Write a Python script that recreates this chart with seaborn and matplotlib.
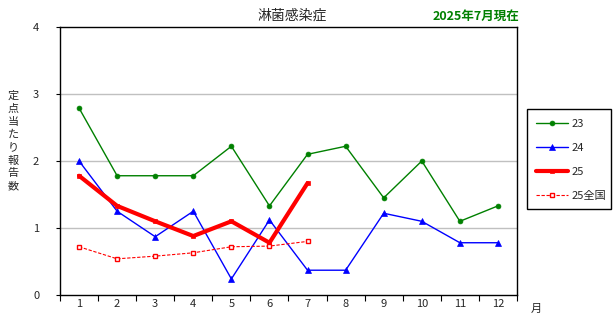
import matplotlib
matplotlib.use("Agg")
import matplotlib.pyplot as plt
import matplotlib.patches as mpatches
import seaborn as sns
import pandas as pd

months = list(range(1, 13))
s23 = [2.79, 1.78, 1.78, 1.78, 2.22, 1.33, 2.10, 2.22, 1.45, 2.00, 1.10, 1.33]
s24 = [2.00, 1.25, 0.87, 1.25, 0.24, 1.12, 0.37, 0.37, 1.22, 1.10, 0.78, 0.78]
s25 = [1.78, 1.33, 1.10, 0.88, 1.10, 0.78, 1.67]
s25n = [0.72, 0.54, 0.58, 0.63, 0.72, 0.73, 0.80]
labels = ["23", "24", "25", "25全国"]
title = "淋菌感染症"
note = "2025年7月現在"
ylabel = "定点当たり報告数"

sns.set_theme(style="white")
plt.rcParams['font.family'] = ['Noto Sans CJK JP', 'DejaVu Sans']

W, H = 616, 327
fig = plt.figure(figsize=(W/100, H/100), dpi=100)
ax = fig.add_axes([60/W, 1-295/H, (517-60)/W, (295-27)/H])

df = pd.concat([
    pd.DataFrame({"month": months, "value": s23, "series": labels[0]}),
    pd.DataFrame({"month": months, "value": s24, "series": labels[1]}),
    pd.DataFrame({"month": months[:len(s25)], "value": s25, "series": labels[2]}),
    pd.DataFrame({"month": months[:len(s25n)], "value": s25n, "series": labels[3]}),
])

styles = {
    "23": dict(color="#008000", lw=1.0, marker="o", ms=3.5, ls="-", mfc="#008000", mec="#008000"),
    "24": dict(color="#0000FF", lw=1.0, marker="^", ms=5, ls="-", mfc="#0000FF", mec="#0000FF"),
    "25": dict(color="#FF0000", lw=3.0, marker="s", ms=3.5, ls="-", mfc="#FF0000", mec="#FF0000"),
    "25全国": dict(color="#FF0000", lw=0.8, marker="s", ms=3.5, ls=(0, (3, 1.5)), mfc="white", mec="#FF0000", mew=1.0),
}
for name in labels:
    st = styles[name]
    sub = df[df.series == name]
    sns.lineplot(data=sub, x="month", y="value", ax=ax, label=name,
                 color=st["color"], linewidth=st["lw"], marker=st["marker"],
                 markersize=st["ms"], linestyle=st["ls"],
                 markerfacecolor=st["mfc"], markeredgecolor=st["mec"],
                 markeredgewidth=st.get("mew", 0.5), zorder=3)

ax.set_xlim(0.5, 12.5)
ax.set_ylim(0, 4)
ax.set_yticks([0, 1, 2, 3, 4])
ax.set_yticklabels(["0", "1", "2", "3", "4"], fontsize=8)
ax.set_xticks([m + 0.5 for m in months[:-1]] + [0.5, 12.5])
ax.set_xticklabels([])
ax.tick_params(axis="x", which="major", length=4, width=0.8, direction="out", bottom=True, color="black")
ax.tick_params(axis="y", length=3, width=0.8, direction="out", left=True, color="black", pad=12)
for m in months:
    ax.text(m, -0.14, str(m), ha="center", va="center", fontsize=8, transform=ax.transData)
for y in [1, 2, 3]:
    ax.axhline(y, color="#c0c0c0", lw=1.0, zorder=1)
for sp in ax.spines.values():
    sp.set_color("black")
    sp.set_linewidth(1.0)
ax.set_xlabel("")
ax.set_ylabel("")

fig.text(292/W, 1-16/H, title, ha="center", va="center", fontsize=10)
fig.text(476/W, 1-16/H, note, ha="center", va="center", fontsize=9,
         color="#008000", fontweight="bold")
for i, ch in enumerate(ylabel):
    fig.text(13/W, 1-(96 + i*12.9)/H, ch, ha="center", va="center", fontsize=8)
fig.text(536/W, 1-309/H, "月", ha="center", va="center", fontsize=8)

# legend frame
fig.patches.append(mpatches.Rectangle((527/W, 1-209/H), (611-527)/W, (209-109)/H,
                                      transform=fig.transFigure, fill=False,
                                      edgecolor="black", linewidth=1.0))
leg = ax.legend(loc="upper left", bbox_to_anchor=(527/W, 1-110/H),
                bbox_transform=fig.transFigure, frameon=False, fontsize=8,
                handlelength=2.9, handletextpad=0.3, labelspacing=1.25, borderpad=0.3)

fig.savefig("out.png", dpi=100, facecolor="white")
